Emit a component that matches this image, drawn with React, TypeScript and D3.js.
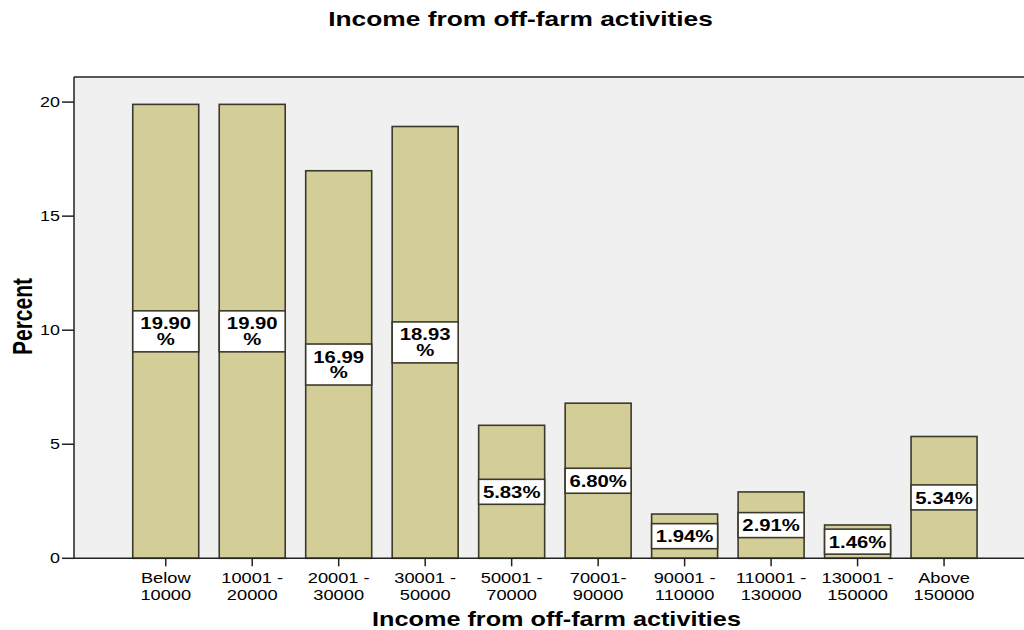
import React from "react";
import * as d3 from "d3";

const title = "Income from off-farm activities";
const xTitle = "Income from off-farm activities";
const yTitle = "Percent";
const categories = [
  ["Below", "10000"],
  ["10001 -", "20000"],
  ["20001 -", "30000"],
  ["30001 -", "50000"],
  ["50001 -", "70000"],
  ["70001-", "90000"],
  ["90001 -", "110000"],
  ["110001 -", "130000"],
  ["130001 -", "150000"],
  ["Above", "150000"],
];
const percents = [19.9, 19.9, 16.99, 18.93, 5.83, 6.8, 1.94, 2.91, 1.46, 5.34];
const yTicks = [0, 5, 10, 15, 20];

const W = 1024;
const H = 630;
const plotLeft = 74;
const plotTop = 77;
const plotBottom = 558.3;
const plotRight = 1030;

function T(props: {
  x: number;
  y: number;
  sx: number;
  size: number;
  bold?: boolean;
  anchor?: string;
  rotate?: number;
  children: React.ReactNode;
}) {
  const { x, y, sx, size, bold, anchor = "middle", rotate = 0, children } = props;
  return (
    <text
      transform={`translate(${x},${y}) scale(${sx},1) rotate(${rotate})`}
      textAnchor={anchor}
      fontSize={size}
      fontWeight={bold ? "bold" : "normal"}
      fill="#000"
    >
      {children}
    </text>
  );
}

export default function App() {
  const x = d3
    .scaleBand<number>()
    .domain(d3.range(categories.length))
    .range([122.5, 987.3])
    .paddingInner(0.237)
    .paddingOuter(0.1185);
  const y = d3.scaleLinear().domain([0, 21.1]).range([plotBottom, plotTop]);
  const bw = x.bandwidth();
  const font = "'Liberation Sans', Arial, sans-serif";
  const barFill = "#d3ce97";
  const dark = "#3a3a2c";

  return (
    <svg
      width={W}
      height={H}
      style={{ position: "absolute", left: 0, top: 0, background: "#fff" }}
      fontFamily={font}
    >
      <T x={520.5} y={26} sx={1.35} size={19.5} bold>
        {title}
      </T>
      <rect x={plotLeft} y={plotTop} width={plotRight - plotLeft} height={plotBottom - plotTop} fill="#f0f0f0" />
      <line x1={plotLeft} x2={plotRight} y1={plotTop} y2={plotTop} stroke="#222" strokeWidth={1.5} />
      <line x1={plotLeft} x2={plotLeft} y1={plotTop} y2={plotBottom} stroke="#222" strokeWidth={1.5} />
      {percents.map((v, i) => (
        <rect
          key={"b" + i}
          x={x(i)!}
          y={y(v)}
          width={bw}
          height={plotBottom - y(v)}
          fill={barFill}
          stroke={dark}
          strokeWidth={1.6}
        />
      ))}
      {percents.map((v, i) => {
        const wrap = v >= 10;
        const h = wrap ? 41 : 25;
        const cy = y(v / 2);
        const cx = x(i)! + bw / 2;
        const txt = v.toFixed(2);
        return (
          <g key={"l" + i}>
            <rect x={x(i)!} y={cy - h / 2} width={bw} height={h} fill="#fff" stroke={dark} strokeWidth={1.6} />
            {wrap ? (
              <>
                <T x={cx} y={cy - 2} sx={1.23} size={16.5} bold>
                  {txt}
                </T>
                <T x={cx} y={cy + 13.6} sx={1.23} size={16.5} bold>
                  %
                </T>
              </>
            ) : (
              <T x={cx} y={cy + 6.3} sx={1.23} size={16.5} bold>
                {txt + "%"}
              </T>
            )}
          </g>
        );
      })}
      <line x1={plotLeft} x2={plotRight} y1={plotBottom} y2={plotBottom} stroke="#222" strokeWidth={1.5} />
      {yTicks.map((t) => (
        <g key={"yt" + t}>
          <line x1={62} x2={plotLeft} y1={y(t)} y2={y(t)} stroke="#222" strokeWidth={1.5} />
          <T x={60} y={y(t) + 5} sx={1.28} size={14} anchor="end">
            {t}
          </T>
        </g>
      ))}
      {categories.map((c, i) => {
        const cx = x(i)! + bw / 2;
        return (
          <g key={"xt" + i}>
            <line x1={cx} x2={cx} y1={plotBottom} y2={plotBottom + 8} stroke="#222" strokeWidth={1.5} />
            <T x={cx} y={583.3} sx={1.25} size={14.6}>
              {c[0]}
            </T>
            <T x={cx} y={600} sx={1.25} size={14.6}>
              {c[1]}
            </T>
          </g>
        );
      })}
      <T x={556.5} y={626} sx={1.295} size={19.5} bold>
        {xTitle}
      </T>
      <T x={32} y={316.5} sx={1.3} size={21} bold rotate={-90}>
        {yTitle}
      </T>
    </svg>
  );
}
